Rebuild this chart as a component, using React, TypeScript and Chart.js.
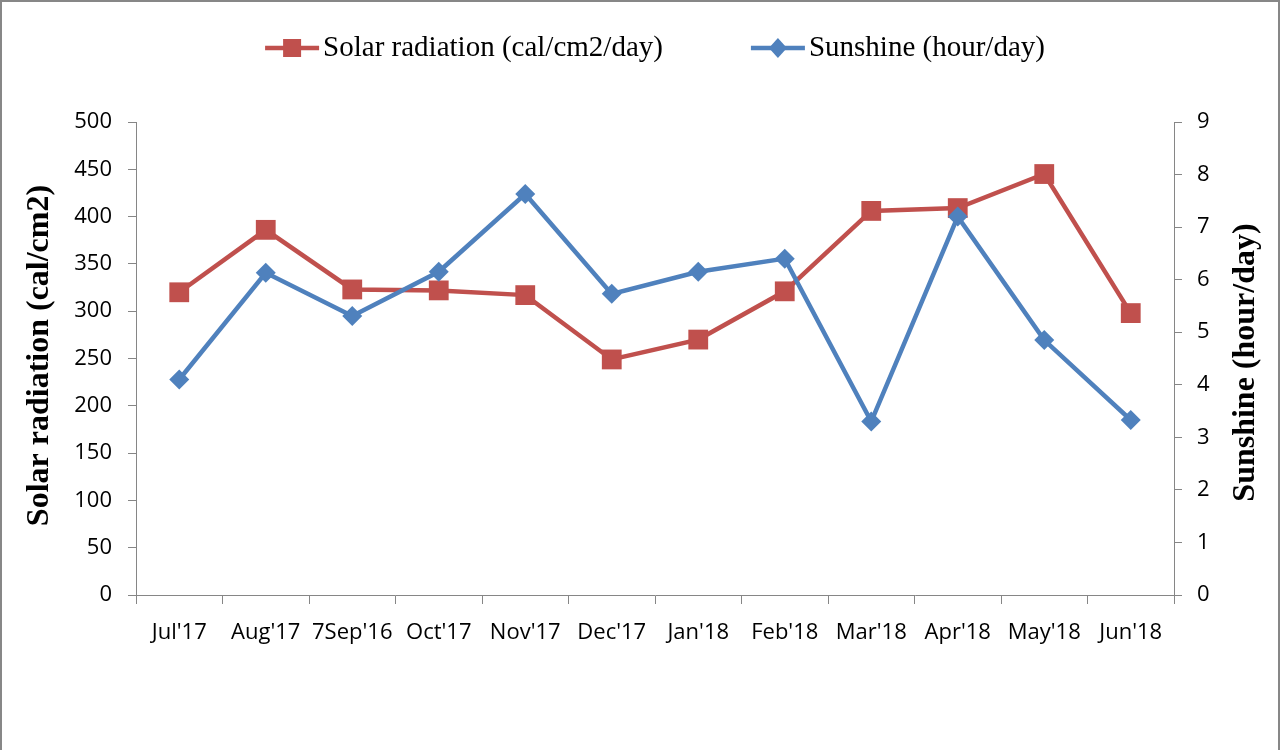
import React, { useEffect, useRef } from "react";
import { Chart, registerables } from "chart.js";

Chart.register(...registerables);

const months = ["Jul'17", "Aug'17", "7Sep'16", "Oct'17", "Nov'17", "Dec'17", "Jan'18", "Feb'18", "Mar'18", "Apr'18", "May'18", "Jun'18"];
const solarRadiation = [320, 386, 323, 322, 317, 249, 270, 321, 406, 409, 445, 298];
const sunshine = [4.1, 6.13, 5.31, 6.15, 7.63, 5.73, 6.15, 6.4, 3.3, 7.2, 4.85, 3.33];

const solarLabel = "Solar radiation (cal/cm2/day)";
const sunshineLabel = "Sunshine (hour/day)";
const leftTitle = "Solar radiation (cal/cm2)";
const rightTitle = "Sunshine (hour/day)";

const RED = "#C0504D";
const BLUE = "#4F81BD";
const AXIS = "#868686";
const TICK_FONT = { family: "'Open Sans', sans-serif", size: 22 };

const decorPlugin = {
  id: "decor",
  beforeDraw(chart: any) {
    const { ctx, width, height } = chart;
    ctx.save();
    ctx.fillStyle = "#fff";
    ctx.fillRect(0, 0, width, height);
    ctx.restore();
  },
  afterDraw(chart: any) {
    const { ctx, width, height, chartArea } = chart;
    ctx.save();
    // outer border
    ctx.strokeStyle = "#878787";
    ctx.lineWidth = 2;
    ctx.beginPath();
    ctx.moveTo(1, height);
    ctx.lineTo(1, 1);
    ctx.lineTo(width - 1, 1);
    ctx.lineTo(width - 1, height);
    ctx.stroke();

    // axis titles
    const cy = (chartArea.top + chartArea.bottom) / 2;
    ctx.fillStyle = "#000";
    ctx.font = "bold 32px 'Liberation Serif', serif";
    ctx.textAlign = "center";
    ctx.textBaseline = "middle";
    ctx.save();
    ctx.translate(40, cy - 3);
    ctx.rotate(-Math.PI / 2);
    ctx.fillText(leftTitle, 0, 0);
    ctx.restore();
    ctx.save();
    ctx.translate(1246, cy + 4);
    ctx.rotate(-Math.PI / 2);
    ctx.fillText(rightTitle, 0, 0);
    ctx.restore();

    // legend
    const items = chart.data.datasets.map((d: any) => ({
      label: d.label,
      color: d.borderColor,
      style: d.pointStyle,
    }));
    ctx.font = "29px 'Liberation Serif', serif";
    const lineW = 54;
    const gapText = 4;
    const gapItems = 88;
    const widths = items.map((it: any) => lineW + gapText + ctx.measureText(it.label).width);
    const total = widths.reduce((a: number, b: number) => a + b, 0) + gapItems * (items.length - 1);
    let x = (chartArea.left + chartArea.right) / 2 - total / 2;
    const ly = 48;
    items.forEach((it: any, i: number) => {
      ctx.strokeStyle = it.color;
      ctx.fillStyle = it.color;
      ctx.lineWidth = 4.5;
      ctx.beginPath();
      ctx.moveTo(x, ly);
      ctx.lineTo(x + lineW, ly);
      ctx.stroke();
      const cx = x + lineW / 2;
      ctx.beginPath();
      if (it.style === "rect") {
        ctx.rect(cx - 9, ly - 9, 18, 18);
      } else {
        ctx.moveTo(cx - 9, ly);
        ctx.lineTo(cx, ly - 10);
        ctx.lineTo(cx + 9, ly);
        ctx.lineTo(cx, ly + 10);
        ctx.closePath();
      }
      ctx.fill();
      ctx.fillStyle = "#000";
      ctx.textAlign = "left";
      ctx.textBaseline = "middle";
      ctx.fillText(it.label, x + lineW + gapText, ly);
      x += widths[i] + gapItems;
    });
    ctx.restore();
  },
};

export default function App() {
  const canvasRef = useRef<HTMLCanvasElement | null>(null);

  useEffect(() => {
    document.body.style.margin = "0";
    const canvas = canvasRef.current;
    if (!canvas) return;
    const chart = new Chart(canvas, {
      type: "line",
      data: {
        labels: months,
        datasets: [
          {
            label: solarLabel,
            data: solarRadiation,
            yAxisID: "y",
            borderColor: RED,
            backgroundColor: RED,
            borderWidth: 4.5,
            pointStyle: "rect",
            pointRadius: 14,
            pointHoverRadius: 14,
            pointBorderWidth: 0,
            pointBackgroundColor: RED,
            tension: 0,
            order: 1,
          },
          {
            label: sunshineLabel,
            data: sunshine,
            yAxisID: "y1",
            borderColor: BLUE,
            backgroundColor: BLUE,
            borderWidth: 4.5,
            pointStyle: "rectRot",
            pointRadius: 10,
            pointHoverRadius: 10,
            pointBorderWidth: 0,
            pointBackgroundColor: BLUE,
            tension: 0,
            order: 0,
          },
        ],
      },
      options: {
        responsive: false,
        animation: false,
        layout: { padding: { top: 122, left: 0, right: 0, bottom: 0 } },
        plugins: {
          legend: { display: false },
          tooltip: { enabled: false },
          title: { display: false },
        },
        scales: {
          x: {
            offset: true,
            grid: {
              offset: true,
              drawOnChartArea: false,
              drawTicks: true,
              tickLength: 9,
              color: AXIS,
              lineWidth: 1,
            },
            border: { color: AXIS, width: 1 },
            ticks: {
              font: TICK_FONT,
              color: "#000",
              padding: 16,
              maxRotation: 0,
              autoSkip: false,
            },
            afterFit(scale: any) {
              scale.height = 155;
            },
          },
          y: {
            position: "left",
            min: 0,
            max: 500,
            ticks: { stepSize: 50, font: TICK_FONT, color: "#000", padding: 16 },
            grid: { drawOnChartArea: false, drawTicks: true, tickLength: 8, color: AXIS },
            border: { color: AXIS, width: 1 },
            afterFit(scale: any) {
              scale.width = 136;
            },
          },
          y1: {
            position: "right",
            min: 0,
            max: 9,
            ticks: { stepSize: 1, font: TICK_FONT, color: "#000", padding: 15 },
            grid: { drawOnChartArea: false, drawTicks: true, tickLength: 8, color: AXIS },
            border: { color: AXIS, width: 1 },
            afterFit(scale: any) {
              scale.width = 106;
            },
          },
        },
      },
      plugins: [decorPlugin],
    });
    return () => chart.destroy();
  }, []);

  return (
    <div style={{ width: 1280, height: 750 }}>
      <canvas ref={canvasRef} width={1280} height={750} style={{ display: "block", width: 1280, height: 750 }} />
    </div>
  );
}
